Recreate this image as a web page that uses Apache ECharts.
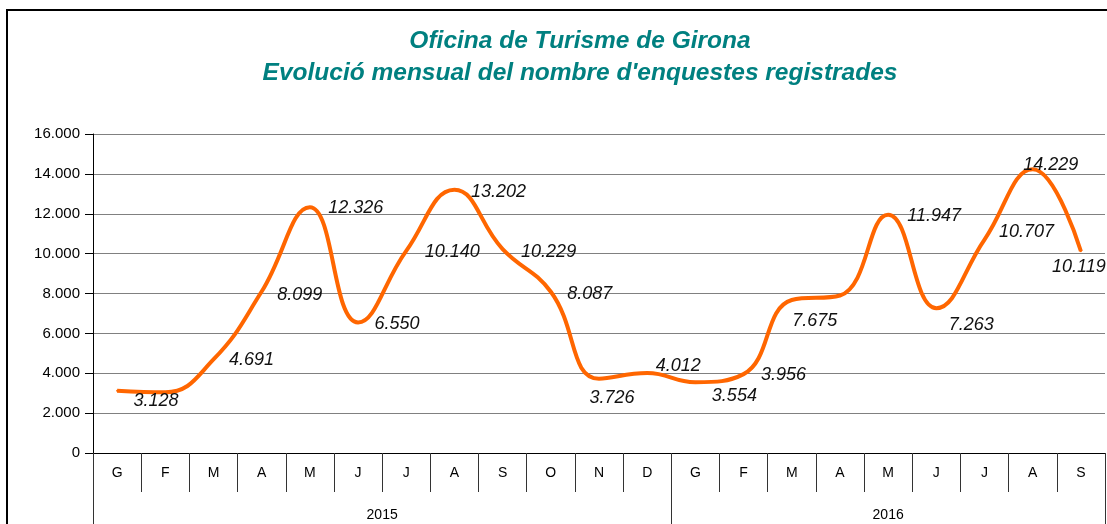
<!DOCTYPE html>
<html>
<head>
<meta charset="utf-8">
<script src="https://cdn.jsdelivr.net/npm/echarts@6/dist/echarts.min.js"></script>
<style>
  html, body { margin: 0; padding: 0; background: #fff; }
  #chart { width: 1107px; height: 524px; }
</style>
</head>
<body>
<div id="chart"></div>
<script>
// months of 2015 (G..D) and 2016 (G..S)
const months = ['G', 'F', 'M', 'A', 'M', 'J', 'J', 'A', 'S', 'O', 'N', 'D',
  'G', 'F', 'M', 'A', 'M', 'J', 'J', 'A', 'S']
const surveys = [3128, 3050, 4691, 8099, 12326, 6550, 10140, 13202, 10229, 8087, 3726, 4012,
  3554, 3956, 7675, 7900, 11947, 7263, 10707, 14229, 10119]
const years = ['2015', '2016']
const yearMonths = [12, 9]

// where each value label sits relative to its point (null = no label)
const labelOffsets = [[39, 10], null, [38, 1], [38, 3], [46, 1], [39, 2], [46, 1], [44, 2],
  [46, 3], [39, 2], [13, 19], [31, -7], [39, 14], [40, 1], [23, 21], null,
  [46, 1], [35, 17], [42, -8], [18, -4], [-2, 16]]

const fmt = (v) => String(v).replace(/\B(?=(\d{3})+(?!\d))/g, '.')

// year group boundaries and centres on a 0..n scale
const bounds = [0]
yearMonths.forEach((n) => bounds.push(bounds[bounds.length - 1] + n))
const centres = years.map((_, i) => (bounds[i] + bounds[i + 1]) / 2)

const chart = echarts.init(document.getElementById('chart'))

chart.setOption({
  animation: false,
  title: {
    text: 'Oficina de Turisme de Girona\nEvolució mensual del nombre d\'enquestes registrades',
    left: 575,
    top: 20,
    textAlign: 'center',
    textStyle: {
      color: '#008080',
      fontFamily: 'Liberation Sans, Arial, sans-serif',
      fontSize: 24.5,
      fontWeight: 'bold',
      fontStyle: 'italic',
      lineHeight: 32
    }
  },
  graphic: [{
    type: 'polyline',
    shape: { points: [[7, 524], [7, 10], [1107, 10]] },
    style: { stroke: '#000', lineWidth: 2, fill: null }
  }],
  grid: { left: 93, right: 2, top: 134, bottom: 71 },
  xAxis: [
    {
      type: 'category',
      data: months,
      boundaryGap: true,
      axisLine: { lineStyle: { color: '#000', width: 1 } },
      axisTick: { show: true, length: 39, interval: 0, lineStyle: { color: '#333' } },
      axisLabel: {
        interval: 0,
        margin: 13,
        color: '#000',
        fontFamily: 'Liberation Sans, Arial, sans-serif',
        fontSize: 14
      }
    },
    {
      type: 'value',
      position: 'bottom',
      min: 0,
      max: bounds[bounds.length - 1],
      axisLine: { show: false },
      splitLine: { show: false },
      axisTick: { show: true, length: 71, customValues: bounds, lineStyle: { color: '#333' } },
      axisLabel: {
        customValues: centres,
        margin: 55,
        color: '#000',
        fontFamily: 'Liberation Sans, Arial, sans-serif',
        fontSize: 14,
        formatter: (v) => years[centres.indexOf(v)]
      }
    }
  ],
  yAxis: {
    type: 'value',
    min: 0,
    max: 16000,
    interval: 2000,
    axisLine: { show: true, lineStyle: { color: '#000' } },
    axisTick: { show: true, length: 8, lineStyle: { color: '#000' } },
    splitLine: { lineStyle: { color: '#808080', width: 1 } },
    axisLabel: {
      margin: 13,
      color: '#000',
      fontFamily: 'Liberation Sans, Arial, sans-serif',
      fontSize: 15,
      formatter: (v) => fmt(v)
    }
  },
  series: [{
    type: 'line',
    smooth: 0.45,
    data: surveys.map((v, i) => ({
      value: v,
      label: labelOffsets[i] ? { show: true, offset: labelOffsets[i] } : { show: false }
    })),
    symbol: 'circle',
    symbolSize: 2,
    showSymbol: true,
    itemStyle: { color: '#ff6600' },
    lineStyle: { color: '#ff6600', width: 4 },
    label: {
      show: true,
      position: 'inside',
      color: '#111',
      fontFamily: 'Liberation Sans, Arial, sans-serif',
      fontSize: 18,
      fontStyle: 'italic',
      formatter: ({ value }) => fmt(value)
    }
  }]
})
</script>
</body>
</html>
